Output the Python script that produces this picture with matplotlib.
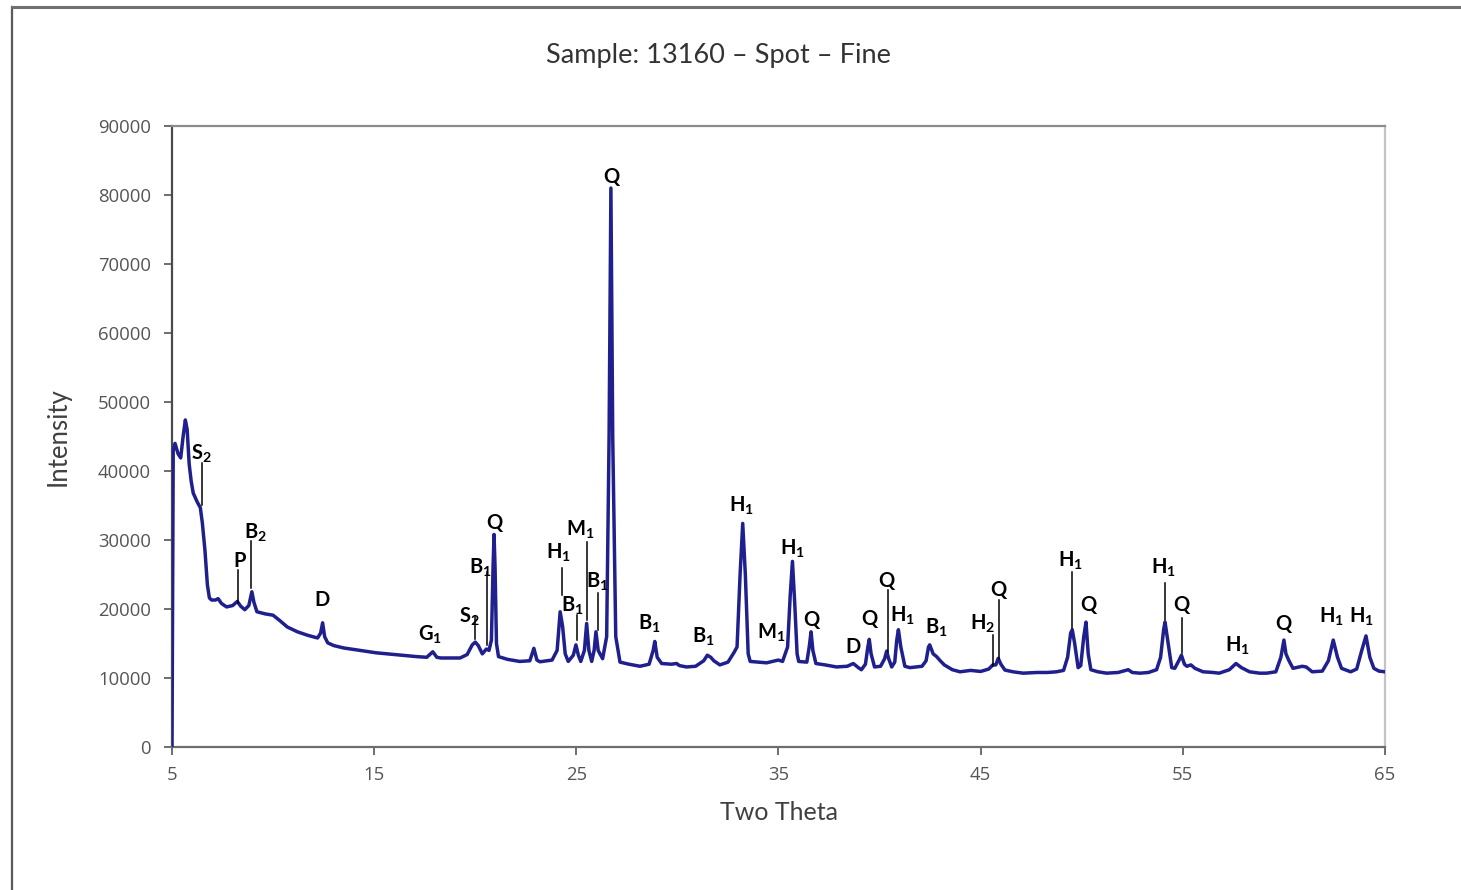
import matplotlib
matplotlib.use("Agg")
import matplotlib.pyplot as plt
from matplotlib.lines import Line2D

# Diffraction trace (two-theta in degrees, intensity in counts)
two_theta = [
    5.00, 5.06, 5.15, 5.30, 5.43, 5.55, 5.66, 5.75, 5.85, 5.95, 6.05, 6.25, 6.40, 6.50,
    6.63, 6.75, 6.85, 6.96, 7.15, 7.28, 7.45, 7.70, 8.00, 8.23, 8.40, 8.60, 8.80, 8.95,
    9.05, 9.20, 9.60, 10.00, 10.30, 10.70, 11.20, 11.70, 12.20, 12.35, 12.45, 12.55, 12.70,
    13.00, 13.50, 14.30, 15.10, 16.00, 17.10, 17.60, 17.90, 18.10, 18.30, 19.25, 19.60,
    19.85, 20.00, 20.15, 20.35, 20.55, 20.68, 20.80, 20.88, 20.93, 20.98, 21.05, 21.15,
    21.60, 22.20, 22.70, 22.90, 23.05, 23.20, 23.80, 24.05, 24.20, 24.32, 24.45, 24.60,
    24.85, 24.98, 25.10, 25.22, 25.40, 25.51, 25.62, 25.76, 25.88, 25.97, 26.08, 26.30,
    26.50, 26.62, 26.71, 26.80, 26.95, 27.16, 27.60, 28.15, 28.60, 28.80, 28.88, 29.00,
    29.22, 29.70, 29.96, 30.10, 30.45, 30.90, 31.30, 31.48, 31.65, 31.80, 32.10, 32.50,
    32.80, 32.95, 33.10, 33.23, 33.36, 33.50, 33.60, 34.00, 34.41, 34.99, 35.20, 35.45,
    35.58, 35.69, 35.80, 35.92, 36.00, 36.40, 36.52, 36.61, 36.70, 36.85, 37.30, 37.87,
    38.40, 38.70, 38.95, 39.10, 39.30, 39.42, 39.49, 39.58, 39.75, 40.05, 40.25, 40.35,
    40.45, 40.60, 40.75, 40.85, 40.93, 41.05, 41.25, 41.50, 42.10, 42.30, 42.42, 42.48,
    42.65, 42.82, 43.00, 43.20, 43.60, 43.98, 44.50, 45.00, 45.40, 45.60, 45.75, 45.87,
    46.00, 46.20, 46.60, 47.10, 47.80, 48.30, 48.75, 49.10, 49.30, 49.45, 49.53, 49.65,
    49.82, 49.95, 50.10, 50.21, 50.32, 50.45, 50.80, 51.23, 51.80, 52.30, 52.50, 52.88,
    53.30, 53.70, 53.90, 54.05, 54.12, 54.25, 54.45, 54.60, 54.80, 54.93, 55.08, 55.20,
    55.40, 55.60, 56.00, 56.50, 56.80, 57.30, 57.63, 57.90, 58.30, 58.80, 59.14, 59.60,
    59.85, 60.00, 60.10, 60.25, 60.45, 60.90, 61.10, 61.40, 61.90, 62.20, 62.44, 62.65,
    62.85, 63.30, 63.60, 63.85, 64.06, 64.25, 64.45, 64.70, 65.00,
]
intensity = [
    0, 43000, 44000, 42500, 41900, 45000, 47400, 46000, 41000, 38500, 36800, 35500, 34700, 32500,
    28500, 23500, 21600, 21300, 21300, 21500, 20800, 20300, 20500, 21100, 20400, 19900, 20500, 22500,
    21000, 19600, 19300, 19100, 18400, 17400, 16700, 16200, 15800, 16500, 18000, 16000, 15100,
    14700, 14350, 14000, 13650, 13400, 13100, 13000, 13800, 13000, 12900, 12900, 13400,
    14800, 15200, 14700, 13500, 14200, 14000, 15500, 26000, 30800, 26000, 15000, 13100,
    12700, 12400, 12500, 14300, 12600, 12350, 12600, 14000, 19600, 17500, 13500, 12400,
    13300, 14800, 13300, 12400, 14000, 17900, 14000, 12400, 14000, 16700, 14000, 12800,
    16000, 45000, 81000, 45000, 16000, 12300, 12000, 11700, 12000, 14000, 15300, 13000,
    12100, 12000, 12100, 11800, 11600, 11700, 12500, 13300, 13000, 12500, 11900, 12300,
    13700, 14500, 25000, 32400, 25000, 13500, 12400, 12300, 12200, 12600, 12400, 14500,
    22000, 26900, 21000, 13500, 12400, 12300, 14500, 16700, 14000, 12100, 11900, 11600,
    11700, 12100, 11500, 11200, 12000, 14500, 15600, 13500, 11600, 11700, 12800, 13900,
    12800, 11600, 12300, 15500, 17000, 14500, 11700, 11500, 11700, 12500, 14500, 14800,
    13500, 13100, 12500, 11900, 11200, 10900, 11100, 10950, 11300, 11900, 11900, 12850,
    12000, 11150, 10900, 10700, 10800, 10800, 10900, 11100, 13000, 16500, 17000, 15000,
    11500, 11800, 16000, 18100, 13500, 11200, 10900, 10700, 10800, 11200, 10800, 10700,
    10800, 11200, 13000, 17000, 18100, 15500, 11500, 11400, 12500, 13300, 12000, 11700,
    11900, 11400, 10900, 10800, 10700, 11200, 12100, 11500, 10900, 10700, 10700, 10900,
    13000, 15500, 13500, 12500, 11400, 11700, 11600, 10900, 11000, 12500, 15500, 13000,
    11400, 10900, 11300, 14000, 16100, 13000, 11400, 11000, 10900,
]

# Phase identifications: label text and where it sits
phase_names = [
    "S_2", "P", "B_2", "D", "G_1", "S_2", "B_1", "Q", "H_1", "B_1", "M_1", "B_1", "Q",
    "B_1", "B_1", "H_1", "M_1", "H_1", "Q", "D", "Q", "Q", "H_1", "B_1", "H_2", "Q",
    "H_1", "Q", "H_1", "Q", "H_1", "Q", "H_1", "H_1",
]
phase_x = [
    6.43, 8.36, 9.15, 12.42, 17.76, 19.69, 20.23, 20.93, 24.14, 24.78, 25.18, 26.02, 26.71,
    28.59, 31.27, 33.19, 34.63, 35.67, 36.61, 38.68, 39.48, 40.32, 41.11, 42.79, 45.11, 45.86,
    49.42, 50.31, 54.02, 54.91, 57.68, 59.95, 62.33, 63.86,
]
phase_y = [
    42500, 27000, 31000, 21300, 16300, 18800, 26000, 32500, 28200, 20500, 31400, 24000, 82600,
    17800, 15900, 34900, 16600, 28700, 18400, 14500, 18500, 24100, 19000, 17300, 17800, 22800,
    27000, 20600, 25900, 20600, 14700, 17800, 18800, 18800,
]

# Leader lines from labels down to their reflections
leader_x = [6.48, 8.26, 8.91, 19.99, 20.57, 24.27, 25.03, 25.53, 26.07, 40.43, 45.60, 45.93,
            49.53, 54.12, 54.97]
leader_top = [41200, 25650, 29850, 19000, 25400, 25950, 19130, 29750, 22300, 22750, 16230,
              21300, 25400, 23700, 18650]
leader_bottom = [35100, 20900, 23050, 15650, 14800, 22050, 15500, 18400, 16950, 13800, 11750,
                 12700, 17200, 18400, 13600]

x_ticks = [5, 15, 25, 35, 45, 55, 65]
y_ticks = [0, 10000, 20000, 30000, 40000, 50000, 60000, 70000, 80000, 90000]

plt.rcParams["mathtext.fontset"] = "custom"
plt.rcParams["mathtext.bf"] = "Lato:bold"
plt.rcParams["mathtext.rm"] = "Lato:bold"
plt.rcParams["mathtext.it"] = "Lato:bold"

fig = plt.figure(figsize=(14.61, 8.90), dpi=100)
ax = fig.add_axes([172 / 1461, 143 / 890, 1213 / 1461, 621 / 890])

ax.plot(two_theta, intensity, color="#1f1f8e", lw=2.5, solid_joinstyle="round", zorder=3)

for lx, lt, lb in zip(leader_x, leader_top, leader_bottom):
    ax.plot([lx, lx], [lb, lt], color="black", lw=1.1, zorder=4)

for name, px, py in zip(phase_names, phase_x, phase_y):
    if "_" in name:
        base, sub = name.split("_")
        s = r"$\mathbf{%s}_{\mathbf{%s}}$" % (base, sub)
    else:
        s = name
    ax.text(px, py, s, ha="center", va="center", fontsize=14.5,
            fontfamily="Lato", fontweight="bold", color="black", zorder=5)

ax.set_xlim(5, 65)
ax.set_ylim(0, 90000)
ax.set_xticks(x_ticks)
ax.set_yticks(y_ticks)
ax.set_xticklabels([str(t) for t in x_ticks])
ax.set_yticklabels([str(t) for t in y_ticks])
ax.tick_params(axis="both", direction="out", length=6, width=1.2, color="#555555",
               labelcolor="#555555", labelsize=13.3)
ax.tick_params(axis="x", pad=8)
ax.tick_params(axis="y", pad=9)
for lab in ax.get_xticklabels() + ax.get_yticklabels():
    lab.set_fontfamily("Open Sans")

ax.spines["left"].set_color("#4a4a4a")
ax.spines["bottom"].set_color("#6e6e6e")
ax.spines["top"].set_color("#8c8c8c")
ax.spines["right"].set_color("#c4c4c4")
for sp in ax.spines.values():
    sp.set_linewidth(1.6)

ax.set_xlabel("Two Theta", fontfamily="Lato", fontsize=18, color="#404040", labelpad=12)
ax.set_ylabel("Intensity", fontfamily="Lato", fontsize=18.5, color="#404040", labelpad=20)
fig.text(718 / 1461, 1 - 56 / 890, "Sample: 13160 \u2013 Spot \u2013 Fine", ha="center",
         va="center", fontfamily="Lato", fontsize=19.5, color="#333333")

# Chart-area frame on the left and top edges
fig.add_artist(Line2D([12 / 1461, 12 / 1461], [0, 1 - 7 / 890], transform=fig.transFigure,
                      color="#5a5a5a", lw=1.6))
fig.add_artist(Line2D([12 / 1461, 1], [1 - 7 / 890, 1 - 7 / 890], transform=fig.transFigure,
                      color="#707070", lw=2.2))

fig.savefig("out.png", dpi=100)
